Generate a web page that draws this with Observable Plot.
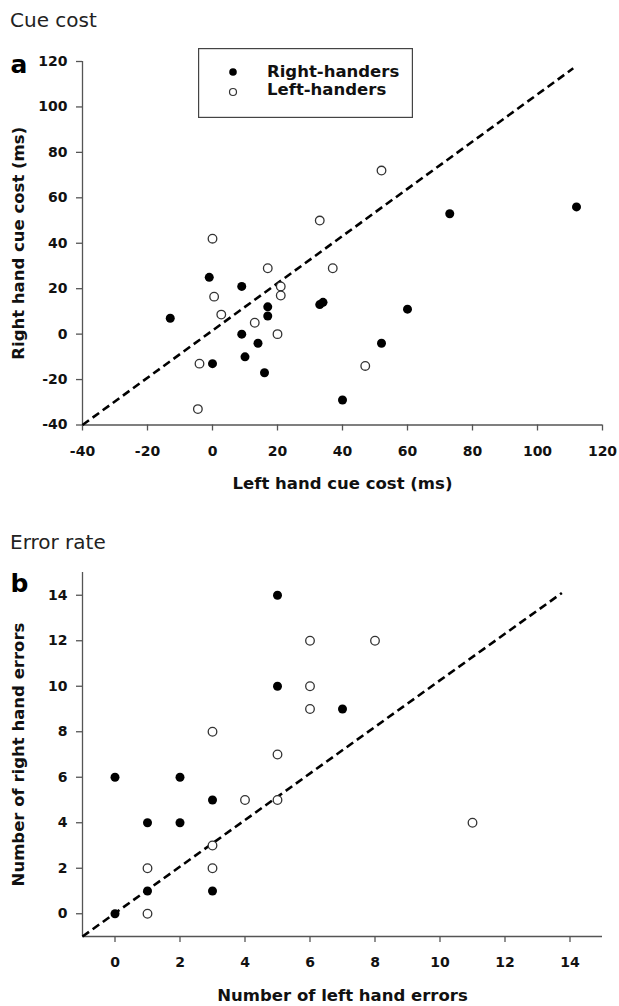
<!DOCTYPE html>
<html><head><meta charset="utf-8">
<script src="https://cdn.jsdelivr.net/npm/d3@7"></script>
<script src="https://cdn.jsdelivr.net/npm/@observablehq/plot@0.6"></script>
<style>
html,body{margin:0;padding:0;background:#fff;}
#root{width:619px;height:1006px;position:relative;overflow:hidden;font-family:"DejaVu Sans",sans-serif;color:#111;background:#fff;}
.title{box-sizing:border-box;font-size:20px;line-height:20px;padding-left:10px;color:#222;white-space:nowrap;}
.panel{position:relative;}
.panel > svg{display:block;}
.legend{position:absolute;}
</style></head><body><div id="root"></div>
<script>
// Panel a: cue cost (ms)
const aRightX = [-13, -1, 9, 17, 17, 9, 14, 10, 0, 16, 33, 34, 40, 73, 112, 60, 52];
const aRightY = [7, 25, 21, 12, 8, 0, -4, -10, -13, -17, 13, 14, -29, 53, 56, 11, -4];
const aLeftX = [0, 0.5, 2.7, 17, 21, 21, 13, 20, -4, -4.5, 33, 37, 52, 47];
const aLeftY = [42, 16.5, 8.6, 29, 21, 17, 5, 0, -13, -33, 50, 29, 72, -14];
const aDiagX = [-40, 111];
const aDiagY = [-40, 117];
const aTicks = [-40, -20, 0, 20, 40, 60, 80, 100, 120];

// Panel b: error counts
const bRightX = [5, 5, 7, 0, 2, 3, 1, 2, 1, 3, 0];
const bRightY = [14, 10, 9, 6, 6, 5, 4, 4, 1, 1, 0];
const bLeftX = [6, 6, 6, 3, 5, 4, 5, 8, 11, 3, 1, 3, 1];
const bLeftY = [12, 10, 9, 8, 7, 5, 5, 12, 4, 3, 2, 2, 0];
const bDiagX = [-1, 13.75];
const bDiagY = [-1, 14.1];
const bTicks = [0, 2, 4, 6, 8, 10, 12, 14];

const seriesNames = ["Right-handers", "Left-handers"];

const zip = (xs, ys) => xs.map((x, i) => ({x, y: ys[i]}));

function panel(o) {
  return Plot.plot({
    width: 619, height: o.height,
    marginLeft: 82, marginRight: 17, marginTop: o.marginTop, marginBottom: o.marginBottom,
    style: {fontFamily: "DejaVu Sans, sans-serif", fontSize: "14px", fontWeight: "bold", color: "#111", background: "white", overflow: "visible"},
    x: {domain: o.xDomain},
    y: {domain: o.yDomain},
    marks: [
      Plot.ruleX([o.xDomain[0]], {stroke: "#555", strokeWidth: 1.3}),
      Plot.ruleY([o.yDomain[0]], {stroke: "#555", strokeWidth: 1.3}),
      Plot.axisX(o.xTicks, {tickSize: 6, tickPadding: 15, tickFormat: d => String(d), stroke: "#555", strokeWidth: 1.3, fill: "#111", label: null}),
      Plot.axisY(o.yTicks, {tickSize: 6, tickPadding: 9, tickFormat: d => String(d), stroke: "#555", strokeWidth: 1.3, fill: "#111", label: null}),
      Plot.line(o.diag, {x: "x", y: "y", stroke: "#000", strokeWidth: 2.6, strokeDasharray: "8,4.5", strokeLinecap: "butt"}),
      Plot.dot(o.right, {x: "x", y: "y", r: 4.5, fill: "#000", stroke: "none"}),
      Plot.dot(o.left, {x: "x", y: "y", r: 4.3, fill: "white", stroke: "#333", strokeWidth: 1.3}),
      Plot.text([o.xLabel], {frameAnchor: "bottom", dy: o.xLabelDy, textAnchor: "middle", lineAnchor: "middle", fontSize: 16.5, fontWeight: "bold", fill: "#111"}),
      Plot.text([o.yLabel], {frameAnchor: "left", dx: -64, rotate: -90, textAnchor: "middle", lineAnchor: "middle", fontSize: 16.5, fontWeight: "bold", fill: "#111"}),
      Plot.text([o.letter], {frameAnchor: "top-left", dx: -72, dy: o.letterDy, textAnchor: "start", lineAnchor: "bottom", fontSize: 25, fontWeight: "bold", fill: "#000"})
    ]
  });
}

const root = document.getElementById("root");

const t1 = document.createElement("div");
t1.className = "title"; t1.style.height = "40px"; t1.style.paddingTop = "10px";
t1.textContent = "Cue cost";
root.appendChild(t1);

const pa = document.createElement("div");
pa.className = "panel";
pa.appendChild(panel({
  height: 470, marginTop: 21, marginBottom: 85.5,
  xDomain: [-40, 120], yDomain: [-40, 120], xTicks: aTicks, yTicks: aTicks,
  right: zip(aRightX, aRightY), left: zip(aLeftX, aLeftY), diag: zip(aDiagX, aDiagY),
  xLabel: "Left hand cue cost (ms)", yLabel: "Right hand cue cost (ms)", xLabelDy: 58.5,
  letter: "a", letterDy: 11
}));
// legend overlay
const lg = document.createElement("div");
lg.className = "legend";
lg.style.left = "198px"; lg.style.top = "8px";
lg.innerHTML = `<svg width="215" height="70" style="display:block">
  <rect x="0.6" y="0.6" width="213.8" height="68.8" fill="white" stroke="#444" stroke-width="1.2"/>
  <circle cx="35" cy="24" r="3.8" fill="#000"/>
  <circle cx="35" cy="44" r="3.5" fill="white" stroke="#333" stroke-width="1.2"/>
  <text x="69" y="29" font-family="DejaVu Sans, sans-serif" font-weight="bold" font-size="16.5" fill="#111">${seriesNames[0]}</text>
  <text x="69" y="47" font-family="DejaVu Sans, sans-serif" font-weight="bold" font-size="16.5" fill="#111">${seriesNames[1]}</text>
</svg>`;
pa.appendChild(lg);
root.appendChild(pa);

const t2 = document.createElement("div");
t2.className = "title"; t2.style.height = "45px"; t2.style.paddingTop = "22.4px";
t2.textContent = "Error rate";
root.appendChild(t2);

const pb = document.createElement("div");
pb.className = "panel";
pb.appendChild(panel({
  height: 451, marginTop: 17, marginBottom: 70,
  xDomain: [-1, 15], yDomain: [-1, 15], xTicks: bTicks, yTicks: bTicks,
  right: zip(bRightX, bRightY), left: zip(bLeftX, bLeftY), diag: zip(bDiagX, bDiagY),
  xLabel: "Number of left hand errors", yLabel: "Number of right hand errors", xLabelDy: 59,
  letter: "b", letterDy: 19.7
}));
root.appendChild(pb);
</script></body></html>
